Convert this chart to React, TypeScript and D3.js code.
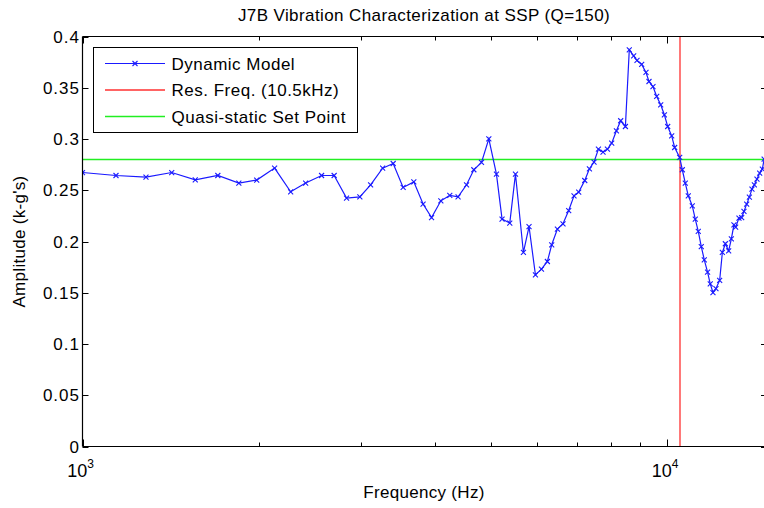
import React from "react";
import * as d3 from "d3";

const freqHz: number[] = [
  1000, 1141, 1284, 1421, 1559, 1704, 1851, 1986, 2131, 2270, 2408, 2564, 2694, 2829, 2981, 3110, 3261, 3399,
  3535, 3687, 3824, 3954, 4101, 4248, 4389, 4538, 4670, 4813, 4954, 5105, 5219, 5380, 5502, 5677, 5804, 5952,
  6095, 6239, 6346, 6490, 6635, 6785, 6929, 7058, 7228, 7362, 7497, 7628, 7768, 7903, 8037, 8188, 8327, 8483,
  8614, 8764, 8880, 9045, 9200, 9309, 9456, 9596, 9748, 9890, 10020, 10179, 10299, 10505, 10614, 10740, 10867,
  11040, 11170, 11303, 11438, 11574, 11724, 11849, 11976, 12118, 12296, 12427, 12575, 12739, 12875, 13007,
  13095, 13267, 13409, 13531, 13676, 13822, 13964, 14097, 14242, 14394, 14547, 14650,
];
const amplitude: number[] = [
  0.2673, 0.2644, 0.2628, 0.2673, 0.2602, 0.2644, 0.257, 0.2599, 0.2716, 0.2485, 0.257, 0.2644, 0.2644, 0.2423,
  0.2436, 0.2553, 0.2716, 0.2761, 0.2527, 0.2582, 0.2365, 0.2234, 0.2397, 0.2449, 0.2436, 0.2553, 0.27, 0.2771,
  0.3002, 0.2658, 0.2218, 0.218, 0.2658, 0.1893, 0.2146, 0.1675, 0.1731, 0.1805, 0.1968, 0.2121, 0.2173, 0.2302,
  0.2446, 0.2482, 0.2595, 0.2709, 0.2775, 0.2901, 0.2872, 0.2901, 0.296, 0.308, 0.3178, 0.3122, 0.387, 0.3812,
  0.3766, 0.3727, 0.3649, 0.3561, 0.3512, 0.3415, 0.3334, 0.3236, 0.3122, 0.3031, 0.2917, 0.282, 0.27, 0.257,
  0.2446, 0.2348, 0.2218, 0.2098, 0.1951, 0.1821, 0.1701, 0.1587, 0.1502, 0.1541, 0.162, 0.1893, 0.1978, 0.1909,
  0.2026, 0.2163, 0.214, 0.2228, 0.2234, 0.2293, 0.2365, 0.2433, 0.2511, 0.2553, 0.2609, 0.2667, 0.2706, 0.2804,
];
const resonanceHz = 10500;
const setPoint = 0.28;
const yTicks: number[] = [0, 0.05, 0.1, 0.15, 0.2, 0.25, 0.3, 0.35, 0.4];
const yTickLabels: string[] = ["0", "0.05", "0.1", "0.15", "0.2", "0.25", "0.3", "0.35", "0.4"];
const xMajorTicks: number[] = [1000, 10000];
const xMajorExponents: string[] = ["3", "4"];
const xMinorTicks: number[] = [2000, 3000, 4000, 5000, 6000, 7000, 8000, 9000];
const legendLabels: string[] = ["Dynamic Model", "Res. Freq. (10.5kHz)", "Quasi-static Set Point"];
const title = "J7B Vibration Characterization at SSP (Q=150)";
const xLabel = "Frequency (Hz)";
const yLabel = "Amplitude (k-g's)";

const W = 764;
const H = 508;
const L = 82.5, R = 765, T = 36.5, B = 446.5;
const FONT = "'Liberation Sans', Arial, Helvetica, sans-serif";
const BLUE = "#1a1aff";
const GREEN = "#22ee22";
const RED = "#ff3030";

export default function App() {
  const x = d3.scaleLog().domain([1000, 14700]).range([L, R]);
  const y = d3.scaleLinear().domain([0, 0.4]).range([B, T]);
  const pts = freqHz.map((f, i) => [x(f), y(amplitude[i])] as [number, number]);
  const line = d3.line<[number, number]>().x((d) => d[0]).y((d) => d[1]);
  const m = 2.5;
  const xPath = (cx: number, cy: number) =>
    `M${cx - m},${cy - m}L${cx + m},${cy + m}M${cx - m},${cy + m}L${cx + m},${cy - m}`;
  const legendX = 93.5, legendY = 47.5, legendW = 264, legendH = 85;
  const rowY = [63.5, 90, 116.5];
  const rx = Math.round(x(resonanceHz));
  const sy = y(setPoint);
  return (
    <svg width={W} height={H} style={{ position: "absolute", left: 0, top: 0, background: "#fff" }} fontFamily={FONT}>
      <defs>
        <clipPath id="plotclip">
          <rect x={L} y={T} width={R - L} height={B - T} />
        </clipPath>
      </defs>
      <rect x={0} y={0} width={W} height={H} fill="#fff" />
      <text x={424} y={21} fontSize={17} textAnchor="middle" letterSpacing={0.4} fill="#000">{title}</text>
      <g clipPath="url(#plotclip)">
        <line x1={rx} x2={rx} y1={T} y2={B} stroke={RED} strokeWidth={1.3} />
        <line x1={L} x2={R} y1={sy} y2={sy} stroke={GREEN} strokeWidth={1.5} />
        <path d={line(pts) || ""} fill="none" stroke={BLUE} strokeWidth={1.2} />
        {pts.map((p, i) => (
          <path key={i} d={xPath(p[0], p[1])} stroke={BLUE} strokeWidth={1.1} fill="none" />
        ))}
      </g>
      <g stroke="#000" strokeWidth={1.2} fill="none">
        <line x1={L} x2={R} y1={B} y2={B} />
        <line x1={L} x2={R} y1={T} y2={T} />
        <line x1={L} x2={L} y1={T} y2={B} />
        <line x1={R} x2={R} y1={T} y2={B} />
      </g>
      <g stroke="#000" strokeWidth={1}>
        {yTicks.map((t, i) => (
          <g key={i}>
            <line x1={L} x2={L + 6} y1={Math.round(y(t)) + 0.5} y2={Math.round(y(t)) + 0.5} />
            <line x1={R - 4} x2={R} y1={Math.round(y(t)) + 0.5} y2={Math.round(y(t)) + 0.5} />
          </g>
        ))}
        {xMajorTicks.map((t, i) => (
          <g key={i}>
            <line x1={Math.round(x(t)) + 0.5} x2={Math.round(x(t)) + 0.5} y1={B} y2={B - 7} />
            <line x1={Math.round(x(t)) + 0.5} x2={Math.round(x(t)) + 0.5} y1={T} y2={T + 7} />
          </g>
        ))}
        {xMinorTicks.map((t, i) => (
          <g key={i}>
            <line x1={Math.round(x(t)) + 0.5} x2={Math.round(x(t)) + 0.5} y1={B} y2={B - 4} />
            <line x1={Math.round(x(t)) + 0.5} x2={Math.round(x(t)) + 0.5} y1={T} y2={T + 4} />
          </g>
        ))}
      </g>
      {yTicks.map((t, i) => (
        <text key={i} x={80} y={y(t) + 6} fontSize={17} textAnchor="end" letterSpacing={1} fill="#000">
          {yTickLabels[i]}
        </text>
      ))}
      {xMajorTicks.map((t, i) => (
        <text key={i} x={x(t) - 2} y={477} fontSize={18} textAnchor="middle" fill="#000">
          10
          <tspan fontSize={12} dy={-9}>{xMajorExponents[i]}</tspan>
        </text>
      ))}
      <text x={424} y={498} fontSize={17} textAnchor="middle" letterSpacing={0.3} fill="#000">{xLabel}</text>
      <text transform={`translate(25,241.5) rotate(-90)`} fontSize={17} textAnchor="middle" letterSpacing={0.3} fill="#000">
        {yLabel}
      </text>
      <rect x={legendX} y={legendY} width={legendW} height={legendH} fill="#fff" stroke="#000" strokeWidth={1} />
      <line x1={105} x2={165} y1={rowY[0]} y2={rowY[0]} stroke={BLUE} strokeWidth={1.2} />
      <path d={xPath(135, rowY[0])} stroke={BLUE} strokeWidth={1.1} fill="none" />
      <line x1={105} x2={165} y1={rowY[1]} y2={rowY[1]} stroke={RED} strokeWidth={1.3} />
      <line x1={105} x2={165} y1={rowY[2]} y2={rowY[2]} stroke={GREEN} strokeWidth={1.5} />
      {legendLabels.map((s, i) => (
        <text key={i} x={171.5} y={rowY[i] + 6} fontSize={17} letterSpacing={0.5} fill="#000">{s}</text>
      ))}
    </svg>
  );
}
